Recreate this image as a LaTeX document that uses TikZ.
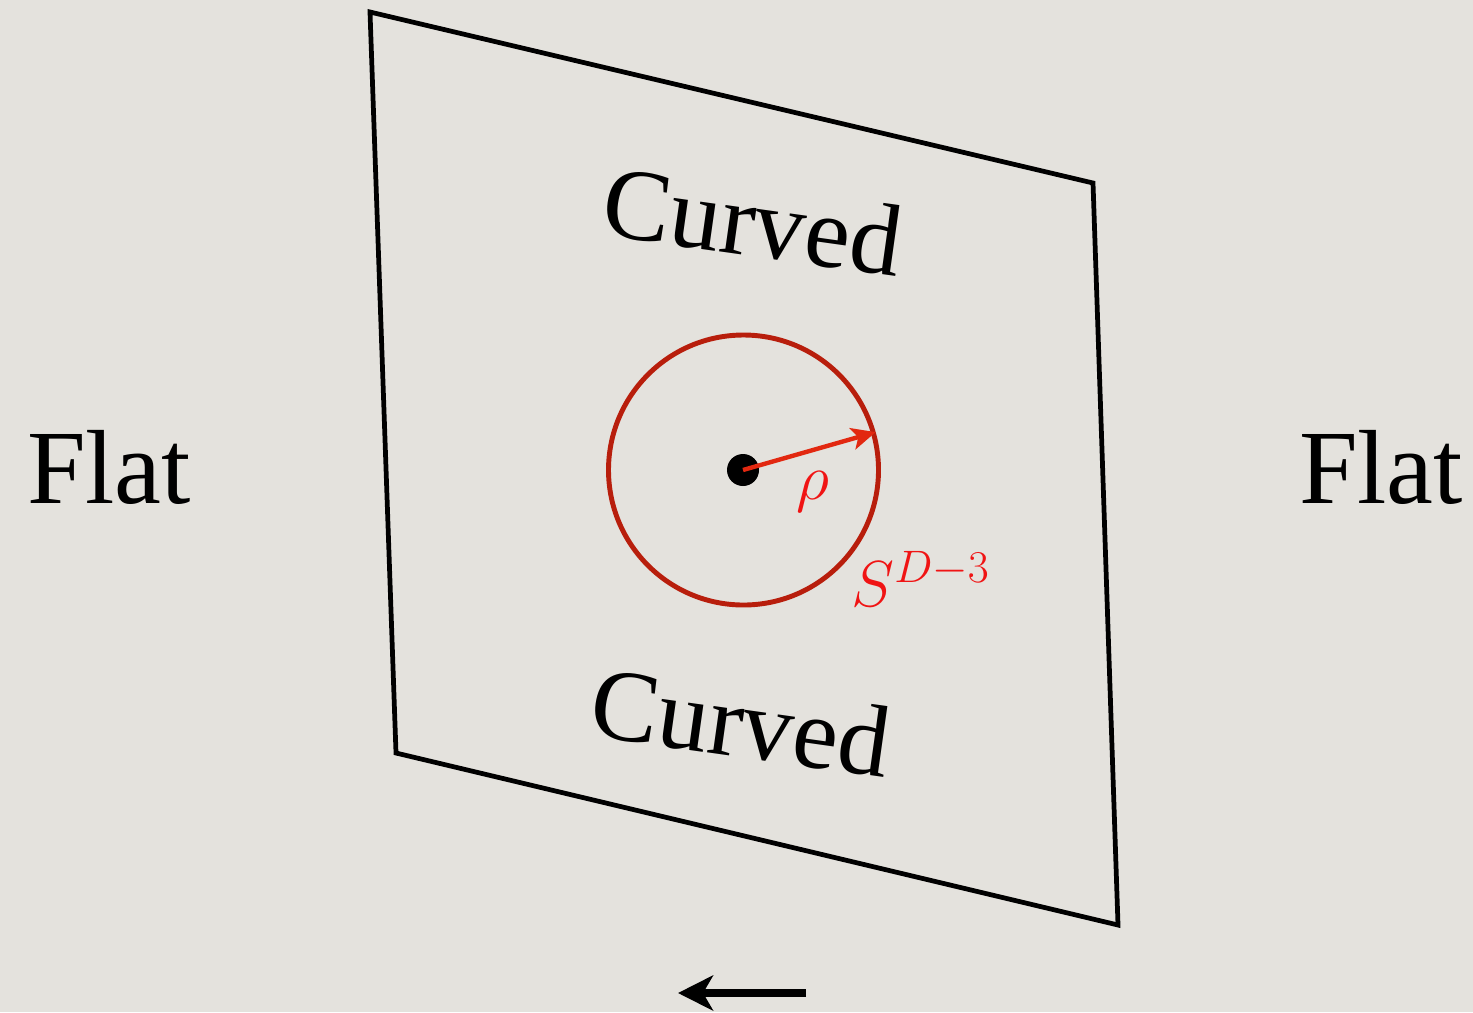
\RequirePackage{fix-cm}
\documentclass[tikz,border=0pt]{standalone}
\usepackage{fontspec}
\setmainfont{Liberation Serif}
\usetikzlibrary{arrows.meta}

\definecolor{paper}{RGB}{228,226,221}
\definecolor{ringred}{RGB}{184,30,12}
\definecolor{radred}{RGB}{226,40,16}
\definecolor{lblred}{RGB}{240,20,20}

\begin{document}
\begin{tikzpicture}[
  x=0.02cm, y=-0.02cm,
  >=Stealth,
  region/.style={font=\fontsize{60}{62}\selectfont, inner sep=0pt, anchor=base},
  bent/.style={font=\fontsize{58}{60}\selectfont, inner sep=0pt, rotate=-8},
  mlbl/.style={text=lblred, font=\fontsize{37}{39}\selectfont, inner sep=0pt},
  sheet/.style={draw=black, line width=2.7pt, line join=miter},
]
  \fill[paper] (0,0) rectangle (1473,1012);
  \useasboundingbox (0,0) rectangle (1473,1012);

  % the brane, seen at a slant
  \coordinate (nw) at (370,12);
  \coordinate (ne) at (1093,183);
  \coordinate (se) at (1118,925);
  \coordinate (sw) at (396,753);
  \draw[sheet] (nw) -- (ne) -- (se) -- (sw) -- cycle;

  \node[region] (flatL) at (109,503) {Flat};
  \node[region] (flatR) at (1381,503) {Flat};

  \node[bent] (curvU) at (753,221) {Curved};
  \node[bent] (curvD) at (741,722) {Curved};

  % sphere round the centre
  \node[circle, draw=ringred, line width=2.8pt, minimum size=270*0.02cm, inner sep=0pt]
    (sph) at (743.5,470) {};
  \node[circle, fill=black, minimum size=32*0.02cm, inner sep=0pt] (ctr) at (743,470) {};

  \draw[radred, line width=2.5pt, -{Stealth[length=0.48cm, width=0.44cm, inset=0.12cm]}]
    (ctr.center) -- (sph.16);

  \node[mlbl, anchor=base] (rho) at (813,499) {$\rho$};
  \node[mlbl, anchor=base west] (sdim) at (851,606) {$S^{D-3}$};

  % direction marker
  \coordinate (mvS) at (806,993);
  \coordinate (mvE) at (678,993);
  \draw[line width=4.2pt, -{Stealth[length=0.7cm, width=0.7cm, inset=0.2cm]}] (mvS) -- (mvE);
\end{tikzpicture}
\end{document}
